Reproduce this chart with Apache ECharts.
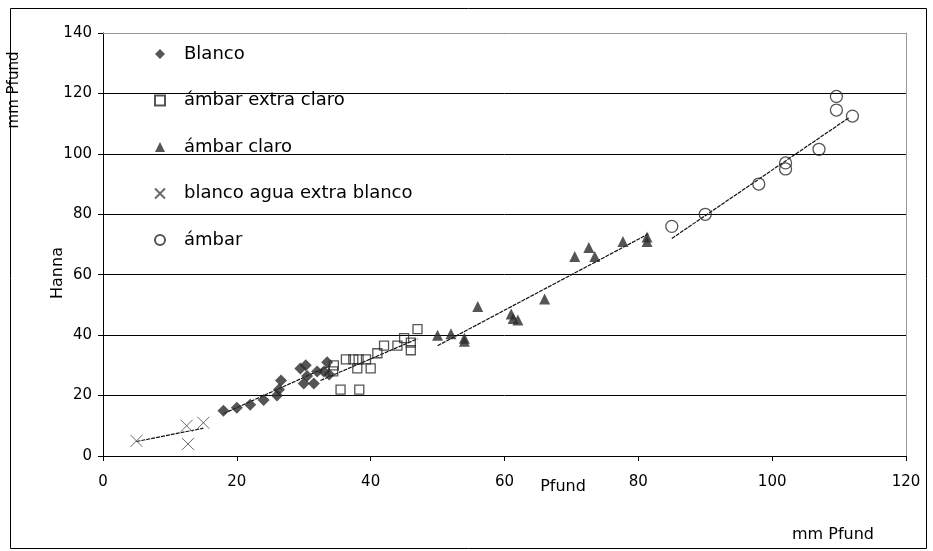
<!DOCTYPE html>
<html>
<head>
<meta charset="utf-8">
<script src="https://cdn.jsdelivr.net/npm/echarts@6/dist/echarts.min.js"></script>
<style>
html,body{margin:0;padding:0;background:#fff;}
#c{width:933px;height:551px;}
</style>
</head>
<body>
<div id="c"></div>
<script>
// ---- data ----
const seriesNames = ['Blanco', 'ámbar extra claro', 'ámbar claro', 'blanco agua extra blanco', 'ámbar'];
const xTickValues = [0, 20, 40, 60, 80, 100, 120];
const yTickValues = [0, 20, 40, 60, 80, 100, 120, 140];

const blanco = [[18,15],[20,16],[22,17],[24,18.5],[26,20],[26.3,22],[26.6,25],[29.5,29],[30.3,30],[30,24],
  [30.5,26.5],[31.5,24],[32,28],[33,28],[33.5,31],[33.8,27]];
const ambarExtraClaro = [[34.5,30],[34.4,28],[35.5,22],[38.3,22],[36.3,32],[37.4,32],[38.2,32],[39.3,32],[38,29],[40,29],
  [41,34],[42,36.5],[44,36.5],[45,39],[46,37.5],[46,35],[47,42]];
const ambarClaro = [[50,40],[52,40.5],[54,39],[54,38],[56,49.5],[61,47],[61.3,45.5],[62,45],[66,52],[70.5,66],
  [72.6,69],[73.5,66],[77.7,71],[81.3,72.5],[81.3,71]];
const blancoAgua = [[5,5],[12.5,10],[12.7,4],[15,11]];
const ambar = [[85,76],[90,80],[98,90],[102,97],[102,95],[107,101.5],[109.6,119],[109.6,114.5],[112,112.5]];

// trend line end points
const trendBlancoAgua = [[5,4.8],[15,9.2]];
const trendBlanco = [[18,14],[34,30]];
const trendExtraClaro = [[32.5,25],[47,38.8]];
const trendClaro = [[50,36.5],[81.5,73.5]];
const trendAmbar = [[85,72],[111.5,112]];

const FONT = 'DejaVu Sans';
const markColor = '#2a2a2a';

function trend(data){
  return {type:'line', data:data, showSymbol:false, symbol:'none', silent:true, z:1,
    lineStyle:{color:'#111', width:1.2, type:[4,1]}, emphasis:{disabled:true}, tooltip:{show:false}};
}

const chart = echarts.init(document.getElementById('c'), null, {renderer:'canvas'});
const option = {
  animation:false,
  backgroundColor:'#fff',
  grid:{left:103, top:33, right:27, bottom:95},
  xAxis:[{
    type:'value', min:xTickValues[0], max:xTickValues[xTickValues.length-1], interval:20,
    axisLine:{show:true, onZero:false, lineStyle:{color:'#000', width:1}},
    axisTick:{show:true, length:5, lineStyle:{color:'#000'}},
    axisLabel:{margin:19, fontSize:15, color:'#000', fontFamily:FONT},
    splitLine:{show:false}
  },{
    type:'value', position:'top', min:0, max:120, interval:20,
    axisLine:{show:true, onZero:false, lineStyle:{color:'#999', width:1}},
    axisTick:{show:false}, axisLabel:{show:false}, splitLine:{show:false}
  }],
  yAxis:[{
    type:'value', min:yTickValues[0], max:yTickValues[yTickValues.length-1], interval:20,
    axisLine:{show:true, onZero:false, lineStyle:{color:'#000', width:1}},
    axisTick:{show:true, length:5, lineStyle:{color:'#000'}},
    axisLabel:{margin:11, fontSize:15, color:'#000', fontFamily:FONT},
    splitLine:{show:true, lineStyle:{color:'#000', width:1}}
  },{
    type:'value', position:'right', min:0, max:140, interval:20,
    axisLine:{show:true, onZero:false, lineStyle:{color:'#999', width:1}},
    axisTick:{show:false}, axisLabel:{show:false}, splitLine:{show:false}
  }],
  legend:{
    orient:'vertical', left:154, top:45, padding:0, itemWidth:10, itemHeight:10, itemGap:28.5,
    data:seriesNames,
    textStyle:{fontSize:18, fontFamily:FONT, color:'#000', padding:[0,0,0,14]}
  },
  series:[
    {name:seriesNames[0], type:'scatter', data:blanco, symbol:'diamond', symbolSize:12, z:3,
      itemStyle:{color:markColor}},
    {name:seriesNames[1], type:'scatter', data:ambarExtraClaro, symbol:'rect', symbolSize:9, z:3,
      itemStyle:{color:'rgba(255,255,255,0)', borderColor:markColor, borderWidth:1.3}},
    {name:seriesNames[2], type:'scatter', data:ambarClaro, symbol:'triangle', symbolSize:11, z:3,
      itemStyle:{color:markColor}},
    {name:seriesNames[3], type:'scatter', data:blancoAgua, symbol:'path://M0,0L10,10M10,0L0,10', symbolSize:12, z:3,
      itemStyle:{color:'rgba(0,0,0,0)', borderColor:'#444', borderWidth:1}},
    {name:seriesNames[4], type:'scatter', data:ambar, symbol:'circle', symbolSize:12, z:3,
      itemStyle:{color:'rgba(255,255,255,0)', borderColor:markColor, borderWidth:1.3}},
    trend(trendBlancoAgua), trend(trendBlanco), trend(trendExtraClaro), trend(trendClaro), trend(trendAmbar)
  ],
  graphic:[
    {type:'rect', shape:{x:10.5, y:8.5, width:916, height:540}, style:{fill:'none', stroke:'#000', lineWidth:1}, silent:true, z:-1},
    {type:'text', x:14, y:90, rotation:Math.PI/2, style:{text:'mm Pfund', fontSize:15, fontFamily:FONT, fill:'#000', align:'center', verticalAlign:'middle'}},
    {type:'text', x:58, y:273, rotation:Math.PI/2, style:{text:'Hanna', fontSize:16, fontFamily:FONT, fill:'#000', align:'center', verticalAlign:'middle'}},
    {type:'text', x:563, y:487, style:{text:'Pfund', fontSize:16, fontFamily:FONT, fill:'#000', align:'center', verticalAlign:'middle'}},
    {type:'text', x:833, y:535, style:{text:'mm Pfund', fontSize:16, fontFamily:FONT, fill:'#000', align:'center', verticalAlign:'middle'}}
  ]
};
chart.setOption(option);
</script>
</body>
</html>
